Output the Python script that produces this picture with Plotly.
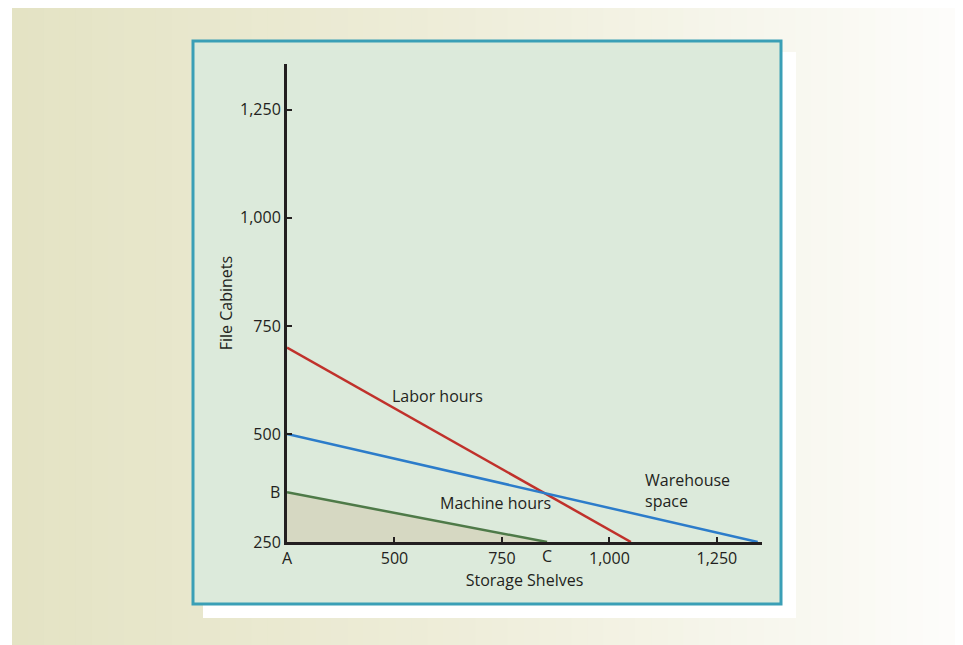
import plotly.graph_objects as go

# axis ticks
shelves_ticks = [250, 500, 750, 1000, 1250]
shelves_labels = ["A", "500", "750", "1,000", "1,250"]
cabinets_ticks = [250, 500, 750, 1000, 1250]
cabinets_labels = ["250", "500", "750", "1,000", "1,250"]

# constraint lines (storage shelves, file cabinets)
labor_x = [250, 1050]
labor_y = [700, 250]
warehouse_x = [250, 1345]
warehouse_y = [500, 250]
machine_x = [250, 855]
machine_y = [365, 250]

TXT = '#231f20'
FONT = 'Open Sans'

# page offset (body margin) and plot area in page pixels
OFF = 8
W, H = 963, 645
PL, PR, PT, PB = 287, 762, 64, 542

fig = go.Figure()

# feasible region + machine hours
fig.add_trace(go.Scatter(
    x=machine_x, y=machine_y, mode='lines',
    fill='tozeroy', fillcolor='#d6d8c2',
    line=dict(color='#4e7a48', width=2.5),
    hoverinfo='skip', showlegend=False
))
fig.add_trace(go.Scatter(
    x=labor_x, y=labor_y, mode='lines',
    line=dict(color='#c0312b', width=2.5),
    hoverinfo='skip', showlegend=False
))
fig.add_trace(go.Scatter(
    x=warehouse_x, y=warehouse_y, mode='lines',
    line=dict(color='#2c7cca', width=2.5),
    hoverinfo='skip', showlegend=False
))


def px(v):
    return (v - PL) / (PR - PL)


def py(v):
    return (PB - v) / (PB - PT)


def box(x0, y0, x1, y1, **kw):
    return dict(type='rect', xref='paper', yref='paper', layer='below',
                x0=px(x0), x1=px(x1), y0=py(y1), y1=py(y0), **kw)


# background: gradient strips, shadow, framed box
stops = [(0.0, (228, 227, 196)), (0.5, (239, 238, 219)), (1.0, (253, 253, 251))]


def grad(t):
    for (t0, c0), (t1, c1) in zip(stops[:-1], stops[1:]):
        if t <= t1:
            f = (t - t0) / (t1 - t0)
            return 'rgb(%d,%d,%d)' % tuple(round(a + (b - a) * f) for a, b in zip(c0, c1))
    return 'rgb(%d,%d,%d)' % stops[-1][1]


shapes = []
n = 60
left, right = 12, 963 + OFF
for i in range(n):
    x0 = left + (right - left) * i / n
    x1 = left + (right - left) * (i + 1) / n + 1
    shapes.append(box(x0, 6, x1, 645 + OFF, line=dict(width=0), fillcolor=grad(i / (n - 1))))

shapes.append(box(203, 52, 796, 618, line=dict(width=0), fillcolor='#ffffff'))
shapes.append(box(193, 41, 781, 604, line=dict(color='#3a9fb6', width=3), fillcolor='#dceadb'))

annotations = [
    dict(x=489, y=588, text='Labor hours', xanchor='left', showarrow=False),
    dict(x=736, y=340, text='Machine hours', xanchor='center', showarrow=False),
    dict(x=1078, y=370, text='Warehouse<br>space', xanchor='left', align='left', showarrow=False),
    dict(x=250, y=machine_y[0], text='B', xanchor='right', xshift=-5, showarrow=False),
    dict(x=machine_x[1], y=250, text='C', yanchor='top', yshift=-1, showarrow=False),
]
for a in annotations:
    a['font'] = dict(family=FONT, size=16, color=TXT)

fig.update_layout(
    width=W, height=H, autosize=False,
    margin=dict(l=PL - OFF, r=W - (PR - OFF), t=PT - OFF, b=H - (PB - OFF)),
    paper_bgcolor='#ffffff',
    plot_bgcolor='rgba(0,0,0,0)',
    font=dict(family=FONT, size=16, color=TXT),
    shapes=shapes,
    annotations=annotations,
    xaxis=dict(
        range=[250, 1355],
        tickvals=shelves_ticks, ticktext=shelves_labels,
        tickfont=dict(family=FONT, size=16, color=TXT),
        ticks='inside', ticklen=5, tickwidth=1.5, tickcolor=TXT,
        showline=True, linecolor=TXT, linewidth=3,
        showgrid=False, zeroline=False,
        title=dict(text='Storage Shelves', standoff=2, font=dict(family=FONT, size=16, color=TXT)),
    ),
    yaxis=dict(
        range=[250, 1356],
        tickvals=cabinets_ticks, ticktext=cabinets_labels,
        tickfont=dict(family=FONT, size=16, color=TXT),
        ticks='inside', ticklen=5, tickwidth=1.5, tickcolor=TXT,
        showline=True, linecolor=TXT, linewidth=3,
        showgrid=False, zeroline=False,
        title=dict(text='File Cabinets', standoff=4, font=dict(family=FONT, size=16, color=TXT)),
    ),
)

fig.write_html("out.html")
